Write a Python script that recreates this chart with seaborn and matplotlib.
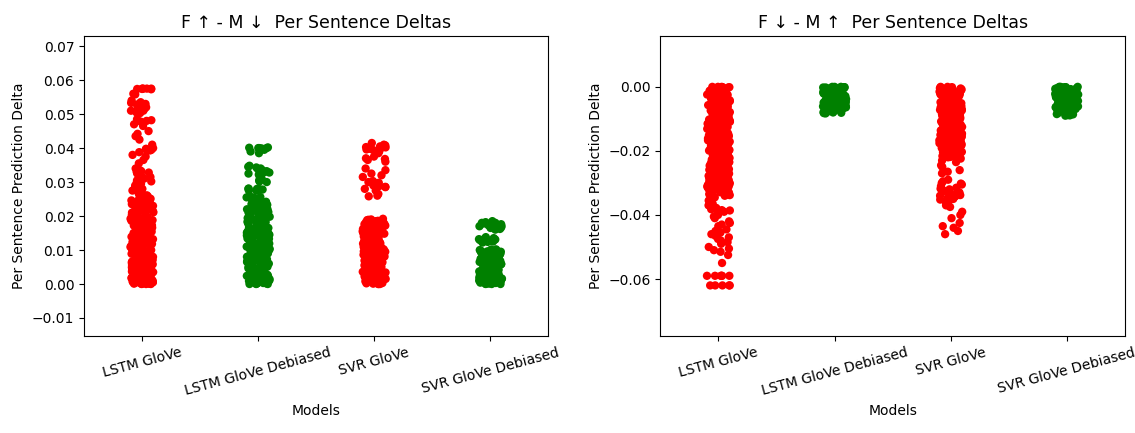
import numpy as np
import pandas as pd
import matplotlib
matplotlib.use("Agg")
import matplotlib.pyplot as plt
import seaborn as sns

# ---------------- data (values in thousandths) ----------------
models = ["LSTM GloVe", "LSTM GloVe Debiased", "SVR GloVe", "SVR GloVe Debiased"]
colors = ["red", "green", "red", "green"]
titles = ["F ↑ - M ↓  Per Sentence Deltas", "F ↓ - M ↑  Per Sentence Deltas"]

# F up - M down
up_lstm = [57.5, 57.5, 57.4, 57.5, 57.3, 57.5, 56.0, 55.8, 54.0, 53.5, 53.3, 53.0, 53.0, 52.8,
           52.0, 51.5, 51.0, 51.0, 50.5, 50.3, 48.5, 48.0, 47.8, 47.0, 46.5, 45.0, 44.2, 43.5,
           42.5, 41.0, 40.0, 39.8, 39.5, 39.3, 38.8, 38.0, 37.5, 36.5, 35.5, 34.0, 33.5, 33.2,
           33.0, 32.5, 32.0, 31.5, 31.0, 30.5, 30.0, 29.5, 29.0, 28.5, 28.0, 27.5, 27.0, 26.5,
           26.1, 25.8, 25.6, 25.3, 25.0, 24.9, 24.5, 24.3, 24.0, 23.8, 23.5, 23.2, 23.0, 22.7,
           22.5, 22.1, 21.9, 21.6, 21.3, 21.0, 20.8, 20.4, 20.2, 19.9, 19.6, 19.4, 19.0, 18.8,
           18.5, 18.1, 17.9, 17.6, 17.3, 17.0, 16.8, 16.5, 16.2, 16.0, 15.7, 15.4, 15.1, 14.9,
           14.6, 14.3, 14.0, 13.8, 13.5, 13.2, 13.0, 12.6, 12.4, 12.1, 11.8, 11.6, 11.3, 11.0,
           10.8, 10.5, 10.2, 10.0, 9.7, 9.5, 9.2, 8.9, 8.7, 8.4, 8.1, 7.9, 7.6, 7.3, 7.1, 6.8,
           6.6, 6.3, 6.0, 5.8, 5.5, 5.2, 5.0, 4.7, 4.4, 4.2, 3.9, 3.7, 3.4, 3.1, 2.9, 2.6, 2.3,
           2.1, 1.8, 1.6, 1.3, 1.0, 0.8, 0.5, 0.3, 0.1, 0.0, 12.0, 8.0, 5.0, 3.0, 2.0, 1.0, 0.5,
           0.2, 0.0, 9.0, 6.5, 4.0, 1.5, 22.0, 18.0, 15.5, 11.5, 7.0, 4.5, 2.5, 0.7,
           0.05, 0.15, 0.25, 0.4, 0.6, 0.7, 0.9, 1.1, 1.2, 1.4, 1.7, 1.9, 2.2, 2.4, 2.7, 3.2,
           3.5, 3.6, 4.1, 4.3, 4.6, 4.9, 5.1, 5.4, 5.6, 5.9, 6.2, 6.4, 6.7, 6.9, 7.2, 7.4, 7.7,
           8.2, 8.5, 8.8, 9.1, 9.4, 9.6, 9.9, 10.4, 10.7, 10.9, 11.2, 11.7, 12.2, 12.5, 12.8,
           13.1, 13.3, 13.6, 13.9, 14.1, 14.4, 14.7, 15.0, 15.2, 15.6, 15.9, 16.3, 16.6, 16.9,
           17.2, 17.5, 17.8, 18.3, 18.6, 18.9, 19.2, 19.5, 19.8, 20.3, 20.6, 21.1, 21.4, 21.7,
           22.3, 22.6, 22.9, 23.3, 23.7, 24.2, 24.6, 25.1, 25.4, 25.9, 0.0, 0.1, 0.3, 0.6, 1.1,
           2.0, 3.3, 4.8, 6.1, 7.5, 9.3, 10.6, 13.7, 16.4, 19.7, 23.5, 57.4, 53.2, 51.2, 48.2,
           39.6, 32.8, 30.2, 28.3]

up_lstm_deb = [40.2, 40.0, 40.0, 39.8, 40.1, 39.5, 39.0, 38.5, 34.8, 34.5, 34.0, 33.8, 33.5,
               33.0, 32.8, 32.5, 32.0, 31.5, 31.0, 30.5, 30.2, 30.0, 28.0, 28.0, 27.8, 28.1,
               27.5, 27.5, 25.8, 25.5, 25.2, 25.0, 24.6, 24.3, 24.0, 23.6, 23.3, 23.0, 22.6,
               22.2, 21.9, 21.5, 21.2, 20.8, 20.5, 20.1, 19.8, 19.4, 19.0, 18.7, 18.3, 18.0,
               17.6, 17.3, 16.9, 16.5, 16.2, 15.9, 15.5, 15.2, 14.8, 14.5, 14.1, 13.8, 13.4,
               13.1, 12.8, 12.4, 12.1, 11.7, 11.4, 11.0, 10.7, 10.3, 10.0, 9.7, 9.3, 9.0, 8.6,
               8.3, 7.9, 7.6, 7.2, 6.9, 6.5, 6.2, 5.8, 5.5, 5.2, 4.8, 4.5, 4.1, 3.8, 3.4, 3.1,
               2.7, 2.4, 2.0, 1.7, 1.3, 1.0, 0.6, 0.3, 0.0, 0.0, 1.5, 3.0, 5.0, 7.0, 9.5, 12.0,
               14.0, 2.2, 0.5, 4.0, 6.0, 8.0, 11.0,
               0.1, 0.2, 0.4, 0.8, 1.1, 1.4, 1.9, 2.2, 2.5, 2.9, 3.3, 3.6, 3.9, 4.3, 4.6, 5.0,
               5.3, 5.7, 6.0, 6.4, 6.7, 7.1, 7.4, 7.8, 8.1, 8.5, 8.8, 9.2, 9.6, 9.9, 10.2, 10.5,
               10.9, 11.2, 11.6, 11.9, 12.3, 12.6, 13.0, 13.3, 13.6, 14.0, 14.3, 14.7, 15.0,
               15.4, 15.7, 16.1, 16.4, 16.7, 17.1, 17.5, 17.8, 18.2, 18.5, 18.9, 19.2, 19.6,
               19.9, 20.3, 20.7, 21.0, 21.4, 21.7, 22.1, 22.4, 22.8, 23.2, 23.5, 23.8, 24.2,
               24.5, 24.8, 25.3, 25.6, 0.0, 0.5, 1.2, 2.6, 4.4, 6.6, 8.7, 10.8, 12.9, 15.1,
               17.4, 19.7, 22.0, 24.1, 34.3, 33.2, 32.2, 40.0, 39.9, 28.0,
               0.2, 0.9, 1.6, 2.3, 3.0, 3.7, 4.4, 5.1, 5.8, 6.5, 7.3, 8.0, 8.7, 9.4, 10.1, 10.9,
               11.6, 12.3, 13.1, 13.8, 14.6, 15.3, 16.0, 16.8, 17.5, 18.3, 19.0, 19.7, 20.5,
               21.2, 22.0, 22.7, 23.4, 24.2, 24.9, 25.5]

up_svr = [41.5, 41.0, 40.8, 40.5, 40.2, 40.0, 39.8, 39.5, 39.3, 39.0, 38.5, 37.5, 37.0, 36.8,
          36.5, 36.0, 34.0, 33.5, 32.5, 32.0, 31.5, 30.3, 30.0, 29.8, 29.5, 29.0, 28.8, 28.5,
          28.0, 27.5, 26.5, 26.0, 25.8, 19.2, 18.9, 18.7, 18.4, 18.2, 17.9, 17.6, 17.3, 17.1,
          16.8, 16.5, 16.3, 16.0, 15.7, 15.5, 15.2, 14.9, 14.6, 14.4, 14.1, 13.8, 13.6, 13.3,
          13.0, 12.8, 12.5, 12.2, 11.9, 11.7, 11.4, 11.1, 10.9, 10.6, 10.3, 10.0, 9.8, 9.5,
          9.2, 9.0, 8.7, 8.4, 8.1, 7.9, 7.6, 7.3, 7.1, 6.8, 6.5, 6.2, 6.0, 5.7, 5.4, 5.2, 4.9,
          4.6, 4.3, 4.1, 3.8, 3.5, 3.3, 3.0, 2.7, 2.4, 2.2, 1.9, 1.6, 1.4, 1.1, 0.8, 0.5, 0.3,
          0.0, 0.0, 1.0, 2.5, 4.5, 6.5, 8.5, 12.0, 15.0, 17.5,
          0.1, 0.2, 0.4, 0.6, 0.9, 1.2, 1.5, 1.8, 2.0, 2.3, 2.6, 2.9, 3.1, 3.4, 3.6, 3.9, 4.2,
          4.4, 4.7, 5.0, 5.3, 5.5, 5.8, 6.1, 6.4, 6.6, 6.9, 7.2, 7.5, 7.7, 8.0, 8.3, 8.6, 8.8,
          9.1, 9.4, 9.6, 9.9, 10.2, 10.4, 10.7, 11.0, 11.3, 11.5, 11.8, 12.1, 12.4, 12.6,
          12.9, 13.2, 13.4, 13.7, 14.0, 14.3, 14.5, 14.8, 15.1, 15.3, 15.6, 15.9, 16.2, 16.4,
          16.7, 17.0, 17.2, 17.5, 17.8, 18.0, 18.3, 18.6, 18.8, 19.0, 0.0, 0.7, 2.2, 3.7,
          5.6, 7.8, 10.1, 13.5, 16.6, 18.5, 40.3, 39.6, 29.6, 28.6]

up_svr_deb = [18.5, 18.2, 18.0, 17.8, 17.5, 17.3, 17.0, 16.8, 16.5, 16.2, 16.0, 13.8, 13.5,
              13.3, 13.0, 12.8, 12.5, 12.2, 13.1, 12.6, 10.2, 10.0, 9.8, 9.5, 9.3, 9.0, 8.8,
              8.5, 8.3, 8.0, 7.8, 7.5, 7.3, 7.0, 6.8, 6.5, 6.3, 6.0, 5.7, 5.5, 5.2, 5.0, 4.7,
              4.5, 4.2, 4.0, 3.7, 3.5, 3.2, 3.0, 2.7, 2.5, 2.2, 2.0, 1.7, 1.5, 1.2, 1.0, 0.7,
              0.5, 0.2, 0.0, 0.0, 0.3, 1.4, 2.8, 4.3, 5.9, 7.4, 8.9, 0.9, 3.4, 6.2, 9.6,
              0.1, 0.4, 0.6, 0.8, 1.1, 1.3, 1.6, 1.8, 2.1, 2.3, 2.6, 2.9, 3.1, 3.3, 3.6, 3.9,
              4.1, 4.4, 4.6, 4.8, 5.1, 5.3, 5.6, 5.8, 6.1, 6.4, 6.6, 6.9, 7.1, 7.4, 7.6, 7.9,
              8.1, 8.4, 8.6, 8.9, 9.1, 9.4, 9.7, 9.9, 10.1, 0.0, 0.2, 1.9, 3.8, 5.4, 7.2, 9.2,
              18.0, 17.6, 16.6, 13.2, 12.9, 12.4, 17.0]

# F down - M up
down_lstm = [-0.0, -0.2, -0.5, -0.7, -1.0, -1.3, -1.5, -1.8, -2.1, -2.3, -2.6, -2.9, -3.1,
             -3.4, -3.7, -3.9, -4.2, -4.5, -4.7, -5.0, -5.3, -5.5, -5.8, -6.1, -6.3, -6.6,
             -6.9, -7.1, -7.4, -7.7, -7.9, -8.2, -8.5, -8.7, -9.0, -9.3, -9.5, -9.8, -10.1,
             -10.3, -10.6, -10.9, -11.1, -11.4, -11.7, -11.9, -12.2, -12.5, -12.7, -13.0,
             -13.3, -13.5, -13.8, -14.1, -14.3, -14.6, -14.9, -15.1, -15.4, -15.7, -15.9,
             -16.2, -16.5, -16.7, -17.0, -17.3, -17.5, -17.8, -18.1, -18.3, -18.6, -18.9,
             -19.1, -19.4, -19.7, -19.9, -20.2, -20.5, -20.7, -21.0, -21.3, -21.5, -21.8,
             -22.1, -22.3, -22.6, -22.9, -23.1, -23.4, -23.7, -23.9, -24.2, -24.5, -24.7,
             -25.0, -25.3, -25.5, -25.8, -26.1, -26.3, -26.6, -26.9, -27.1, -27.4, -27.7,
             -27.9, -28.2, -28.5, -28.7, -29.0, -29.3, -29.5, -29.8, -30.1, -30.3, -30.6,
             -30.9, -31.1, -31.4, -31.7, -31.9, -32.2, -32.5, -32.7, -33.0, -33.3, -33.6,
             -34.0, -0.1, -0.0, -1.2, -3.0, -5.1, -8.0, -11.5, -15.0, -19.0, -23.0, -26.0,
             -29.0, -0.3, -2.0, -6.0, -10.0, -14.0, -18.0, -22.0, -25.5, -28.0, -31.0,
             -34.5, -35.5, -36.5, -37.0, -38.0, -38.2, -38.5, -39.0, -39.5, -40.0, -41.0,
             -42.0, -42.5, -43.0, -44.5, -45.0, -45.5, -46.5, -47.0, -48.0, -48.5, -49.0,
             -50.0, -51.0, -51.5, -52.5, -55.0, -59.0, -59.0, -59.0, -59.0, -59.0, -59.0,
             -62.0, -62.0, -62.0, -62.0, -62.0,
             -0.1, -0.4, -0.6, -0.9, -1.1, -1.4, -1.7, -1.9, -2.2, -2.5, -2.7, -3.0, -3.3,
             -3.5, -3.8, -4.1, -4.3, -4.6, -4.9, -5.1, -5.4, -5.7, -5.9, -6.2, -6.5, -6.7,
             -7.0, -7.3, -7.5, -7.8, -8.1, -8.3, -8.6, -8.9, -9.1, -9.4, -9.7, -9.9, -10.2,
             -10.5, -10.7, -11.0, -11.3, -11.5, -11.8, -12.1, -12.3, -12.6, -12.9, -13.1,
             -13.4, -13.7, -13.9, -14.2, -14.5, -14.7, -15.0, -15.3, -15.5, -15.8, -16.1,
             -16.3, -16.6, -16.9, -17.1, -17.4, -17.7, -17.9, -18.2, -18.5, -18.7, -19.0,
             -19.3, -19.5, -19.8, -20.1, -20.3, -20.6, -20.9, -21.1, -21.4, -21.7, -21.9,
             -22.2, -22.5, -22.7, -23.0, -23.3, -23.5, -23.8, -24.1, -24.3, -24.6, -24.9,
             -25.1, -25.4, -25.7, -25.9, -26.2, -26.5, -26.7, -27.0, -27.3, -27.5, -27.8,
             -28.1, -28.3, -28.6, -28.9, -29.1, -29.4, -29.7, -29.9, -30.2, -30.5, -30.7,
             -31.0, -31.3, -31.5, -31.8, -32.1, -32.3, -32.6, -32.9, -33.2, -33.5, -33.8,
             -0.0, -0.3, -2.4, -4.4, -6.8, -9.6, -12.4, -16.0, -20.0, -24.0, -28.4, -32.0,
             -37.8, -38.6, -40.5, -43.5, -46.0, -47.5, -50.5]

down_lstm_deb = [-0.0, -0.2, -0.4, -0.6, -0.8, -1.0, -1.2, -1.4, -1.6, -1.8, -2.0, -2.2,
                 -2.4, -2.6, -2.8, -3.0, -3.2, -3.4, -3.6, -3.8, -4.0, -4.2, -4.4, -4.6,
                 -4.8, -5.0, -5.2, -5.4, -5.6, -5.8, -6.0, -6.2, -6.4, -6.6, -6.8, -7.0,
                 -7.2, -7.5, -7.8, -8.0, -8.3, -0.1, -0.5, -1.1, -1.9, -2.5, -3.3, -4.1,
                 -5.5, -6.5, -7.7, -8.2, -0.0, -2.9, -4.9,
                 -0.1, -0.3, -0.5, -0.7, -0.9, -1.1, -1.3, -1.5, -1.7, -1.9, -2.1, -2.3,
                 -2.5, -2.7, -2.9, -3.1, -3.3, -3.5, -3.7, -3.9, -4.1, -4.3, -4.5, -4.7,
                 -4.9, -5.1, -5.3, -5.5, -5.7, -5.9, -6.1, -6.3, -6.5, -6.7, -6.9, -7.1,
                 -7.4, -7.9, -8.1, -0.0, -0.4, -1.6, -2.4, -3.6, -4.4, -5.6, -6.4, -7.6,
                 -0.2]

down_svr = [-0.0, -0.2, -0.4, -0.7, -0.9, -1.1, -1.4, -1.6, -1.8, -2.1, -2.3, -2.5, -2.8,
            -3.0, -3.2, -3.5, -3.7, -3.9, -4.2, -4.4, -4.6, -4.9, -5.1, -5.3, -5.6, -5.8,
            -6.0, -6.3, -6.5, -6.7, -7.0, -7.2, -7.4, -7.7, -7.9, -8.1, -8.4, -8.6, -8.8,
            -9.1, -9.3, -9.5, -9.8, -10.0, -10.2, -10.5, -10.7, -10.9, -11.2, -11.4, -11.6,
            -11.9, -12.1, -12.3, -12.6, -12.8, -13.0, -13.3, -13.5, -13.7, -14.0, -14.2,
            -14.4, -14.7, -14.9, -15.1, -15.4, -15.6, -15.8, -16.1, -16.3, -16.5, -16.8,
            -17.0, -17.2, -17.5, -17.7, -17.9, -18.2, -18.4, -18.6, -18.9, -19.1, -19.3,
            -19.6, -19.8, -20.0, -20.3, -20.5, -20.8, -21.2, -21.6, -22.0, -22.5, -23.0,
            -0.5, -2.0, -4.0, -6.2, -8.5, -10.8, -13.2, -15.5, -18.0, -21.0, -1.0, -3.3,
            -7.5, -12.0, -16.0, -23.5, -24.5, -25.0, -26.0, -26.5, -27.0, -29.0, -29.5,
            -30.0, -30.5, -31.0, -31.5, -32.0, -32.5, -33.0, -33.5, -34.0, -34.5, -35.0,
            -35.5, -36.0, -36.5, -37.0, -37.5, -39.0, -40.0, -41.0, -42.5, -43.5, -44.0,
            -45.0, -46.0,
            -0.1, -0.3, -0.6, -0.8, -1.0, -1.3, -1.5, -1.7, -1.9, -2.2, -2.4, -2.6, -2.9,
            -3.1, -3.4, -3.6, -3.8, -4.1, -4.3, -4.5, -4.8, -5.0, -5.2, -5.5, -5.7, -5.9,
            -6.1, -6.4, -6.6, -6.9, -7.1, -7.3, -7.6, -7.8, -8.0, -8.3, -8.5, -8.7, -9.0,
            -9.2, -9.4, -9.7, -9.9, -10.1, -10.4, -10.6, -10.8, -11.1, -11.3, -11.5, -11.8,
            -12.0, -12.2, -12.5, -12.7, -12.9, -13.2, -13.4, -13.6, -13.9, -14.1, -14.3,
            -14.6, -14.8, -15.0, -15.3, -15.5, -15.7, -16.0, -16.2, -16.4, -16.7, -16.9,
            -17.1, -17.4, -17.6, -17.8, -18.1, -18.3, -18.5, -18.8, -19.0, -19.2, -19.5,
            -19.7, -19.9, -20.4, -20.9, -21.4, -21.9, -22.4, -0.0, -0.9, -2.8, -4.6, -6.9,
            -9.3, -11.7, -14.0, -16.6, -19.4, -22.0, -30.2, -31.8, -33.8, -35.2, -32.8,
            -36.2, -34.2]

down_svr_deb = [-0.0, -0.2, -0.4, -0.6, -0.8, -1.0, -1.2, -1.4, -1.6, -1.8, -2.0, -2.2,
                -2.4, -2.6, -2.8, -3.0, -3.2, -3.4, -3.6, -3.8, -4.0, -4.2, -4.4, -4.6,
                -4.8, -5.0, -5.2, -5.4, -5.6, -5.8, -6.0, -6.2, -6.4, -6.6, -6.8, -7.0,
                -7.3, -7.6, -7.9, -8.2, -8.6, -9.0, -0.1, -0.5, -1.1, -1.9, -2.5, -3.3,
                -4.1, -5.5, -6.5, -7.7, -8.4, -0.0, -2.9, -4.9, -8.8,
                -0.1, -0.3, -0.5, -0.7, -0.9, -1.1, -1.3, -1.5, -1.7, -1.9, -2.1, -2.3,
                -2.5, -2.7, -2.9, -3.1, -3.3, -3.5, -3.7, -3.9, -4.1, -4.3, -4.5, -4.7,
                -4.9, -5.1, -5.3, -5.5, -5.7, -5.9, -6.1, -6.3, -6.5, -6.7, -6.9, -7.1,
                -7.4, -7.8, -8.1, -8.5, -8.9, -0.0, -0.4, -1.6, -2.4, -3.6, -4.4, -5.6,
                -6.4, -7.6, -0.2]

up_data = [up_lstm, up_lstm_deb, up_svr, up_svr_deb]
down_data = [down_lstm, down_lstm_deb, down_svr, down_svr_deb]
ylims = [(-0.0153, 0.0730), (-0.0778, 0.0159)]


def to_frame(series_list):
    rows = []
    for name, vals in zip(models, series_list):
        for v in vals:
            rows.append((name, v / 1000.0))
    return pd.DataFrame(rows, columns=["Models", "Delta"])


np.random.seed(3)
fig, axes = plt.subplots(1, 2, figsize=(11.35, 4.33), dpi=100)

for ax, series_list, title, ylim in zip(axes, [up_data, down_data], titles, ylims):
    df = to_frame(series_list)
    sns.stripplot(data=df, x="Models", y="Delta", hue="Models", order=models,
                  hue_order=models, palette=colors, legend=False, jitter=0.1,
                  size=6, linewidth=0, ax=ax)
    ax.set_title(title, fontsize=12.5)
    ax.set_xlabel("Models", fontsize=10)
    ax.set_ylabel("Per Sentence Prediction Delta", fontsize=10)
    ax.set_ylim(*ylim)
    ax.set_xlim(-0.5, 3.5)
    ax.tick_params(axis="x", rotation=15, labelsize=10)
    ax.tick_params(axis="y", labelsize=10)

fig.subplots_adjust(left=0.074, right=0.991, bottom=0.224, top=0.917, wspace=0.241)
fig.savefig("out.png", dpi=100)
